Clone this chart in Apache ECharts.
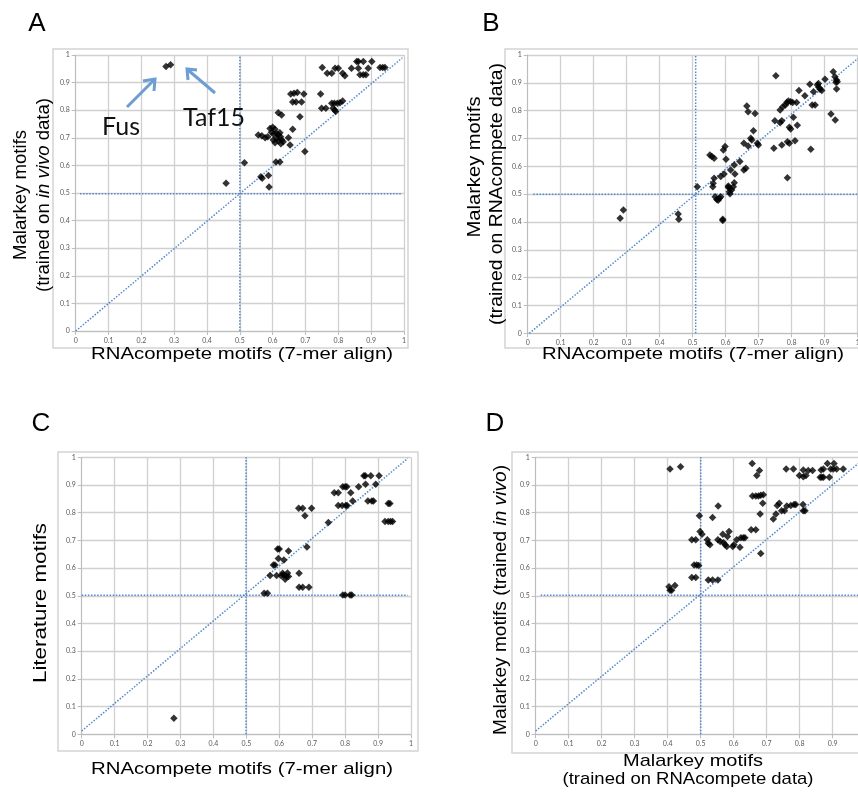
<!DOCTYPE html>
<html><head><meta charset="utf-8">
<script src="https://cdn.jsdelivr.net/npm/echarts@6/dist/echarts.min.js"></script>
<style>html,body{margin:0;padding:0;background:#fff}#c{width:858px;height:796px}</style>
</head><body><div id="c"></div>
<script>
// ---------- data ----------
const tickLabels = ['0','0.1','0.2','0.3','0.4','0.5','0.6','0.7','0.8','0.9','1'];

const pointsA = [
 [0.275,0.958],[0.289,0.965],
 [0.458,0.535],[0.514,0.61],
 [0.556,0.71],[0.567,0.707],[0.577,0.70],[0.585,0.704],
 [0.564,0.559],[0.568,0.553],[0.587,0.563],[0.589,0.522],
 [0.592,0.734],[0.600,0.738],[0.607,0.731],[0.596,0.72],[0.603,0.714],
 [0.612,0.716],[0.617,0.71],[0.622,0.718],[0.624,0.704],
 [0.602,0.692],[0.607,0.682],[0.612,0.698],[0.617,0.688],[0.627,0.692],[0.632,0.686],[0.625,0.678],
 [0.648,0.70],[0.653,0.674],[0.661,0.731],
 [0.617,0.791],[0.627,0.783],[0.683,0.776],
 [0.61,0.612],[0.622,0.612],[0.698,0.65],
 [0.655,0.859],[0.665,0.861],[0.675,0.864],[0.695,0.859],
 [0.661,0.83],[0.671,0.83],[0.688,0.83],
 [0.746,0.859],[0.749,0.807],[0.762,0.807],
 [0.78,0.825],[0.788,0.825],[0.797,0.825],[0.805,0.827],[0.813,0.833],
 [0.784,0.807],[0.789,0.801],[0.792,0.795],
 [0.751,0.955],[0.766,0.934],[0.78,0.934],[0.79,0.952],[0.80,0.952],[0.813,0.934],[0.82,0.925],[0.84,0.952],
 [0.856,0.976],[0.861,0.976],[0.876,0.976],[0.902,0.976],[0.861,0.952],[0.891,0.952],
 [0.866,0.928],[0.876,0.928],[0.884,0.928],
 [0.927,0.955],[0.935,0.955],[0.942,0.955]
];

const pointsB = [
 [0.28,0.413],[0.29,0.443],[0.456,0.429],[0.458,0.41],[0.514,0.527],
 [0.552,0.641],[0.558,0.635],[0.565,0.629],
 [0.565,0.557],[0.562,0.539],[0.561,0.527],
 [0.568,0.491],[0.573,0.481],[0.581,0.485],[0.585,0.491],[0.577,0.478],
 [0.591,0.41],[0.591,0.405],
 [0.585,0.563],[0.595,0.572],[0.608,0.525],
 [0.593,0.659],[0.598,0.671],[0.601,0.625],
 [0.608,0.529],[0.613,0.521],[0.618,0.515],[0.613,0.501],[0.623,0.527],[0.611,0.509],
 [0.615,0.587],[0.628,0.572],[0.626,0.605],[0.626,0.541],[0.643,0.617],
 [0.655,0.587],[0.661,0.593],
 [0.664,0.817],[0.668,0.796],[0.689,0.79],
 [0.655,0.683],[0.668,0.673],[0.676,0.701],[0.679,0.695],[0.684,0.728],[0.696,0.683],[0.699,0.677],
 [0.752,0.925],[0.746,0.665],[0.749,0.764],[0.765,0.757],[0.77,0.764],
 [0.765,0.802],[0.773,0.814],[0.781,0.82],[0.785,0.829],[0.79,0.835],[0.797,0.832],
 [0.77,0.677],[0.787,0.688],[0.793,0.683],[0.793,0.74],[0.797,0.734],[0.787,0.559],
 [0.803,0.829],[0.815,0.829],[0.805,0.776],[0.817,0.748],[0.81,0.692],
 [0.822,0.872],[0.84,0.854],[0.855,0.895],[0.858,0.661],[0.862,0.82],[0.871,0.82],[0.866,0.868],
 [0.878,0.892],[0.881,0.898],[0.886,0.877],[0.891,0.872],[0.882,0.884],
 [0.901,0.913],[0.919,0.788],[0.932,0.766],[0.926,0.94],
 [0.931,0.922],[0.936,0.91],[0.938,0.904],[0.934,0.902],[0.936,0.878]
];

const pointsC = [
 [0.28,0.058],[0.554,0.509],[0.564,0.509],[0.572,0.573],[0.592,0.573],
 [0.582,0.611],[0.587,0.611],[0.597,0.635],[0.595,0.669],[0.600,0.669],
 [0.610,0.581],[0.613,0.575],[0.618,0.56],[0.622,0.57],[0.625,0.582],[0.628,0.57],[0.606,0.572],
 [0.614,0.629],[0.628,0.662],
 [0.660,0.581],[0.660,0.531],[0.671,0.531],[0.690,0.531],
 [0.659,0.816],[0.671,0.816],[0.698,0.816],[0.678,0.789],[0.684,0.676],[0.749,0.765],
 [0.767,0.872],[0.779,0.872],[0.779,0.826],[0.791,0.826],[0.802,0.826],[0.806,0.826],
 [0.793,0.894],[0.800,0.894],[0.805,0.894],[0.817,0.872],[0.823,0.842],
 [0.793,0.503],[0.800,0.503],[0.815,0.503],[0.820,0.503],
 [0.841,0.894],[0.857,0.933],[0.861,0.933],[0.878,0.933],[0.903,0.933],
 [0.862,0.903],[0.893,0.903],[0.869,0.842],[0.881,0.842],[0.886,0.842],
 [0.931,0.833],[0.936,0.833],[0.921,0.768],[0.931,0.768],[0.938,0.768],[0.944,0.768]
];

const pointsD = [
 [0.407,0.958],[0.439,0.966],
 [0.404,0.533],[0.407,0.52],[0.412,0.52],[0.422,0.537],
 [0.473,0.702],[0.485,0.702],[0.473,0.566],[0.485,0.566],
 [0.496,0.789],[0.498,0.732],[0.504,0.722],
 [0.480,0.611],[0.488,0.611],[0.494,0.609],
 [0.520,0.702],[0.523,0.69],[0.528,0.684],
 [0.523,0.557],[0.536,0.557],[0.552,0.557],
 [0.536,0.783],[0.553,0.824],
 [0.552,0.702],[0.559,0.696],[0.569,0.692],[0.574,0.684],[0.579,0.678],
 [0.567,0.722],[0.581,0.714],[0.586,0.732],
 [0.597,0.678],[0.601,0.684],[0.609,0.702],[0.622,0.71],[0.629,0.71],[0.634,0.71],[0.619,0.675],
 [0.653,0.738],[0.667,0.738],[0.656,0.978],
 [0.657,0.86],[0.667,0.86],[0.675,0.86],[0.682,0.863],[0.690,0.865],
 [0.670,0.934],[0.678,0.952],[0.680,0.795],[0.682,0.653],[0.688,0.834],
 [0.720,0.777],[0.728,0.795],[0.732,0.826],[0.738,0.834],[0.745,0.807],[0.754,0.807],
 [0.759,0.958],[0.781,0.958],
 [0.761,0.824],[0.773,0.826],[0.783,0.83],[0.788,0.83],
 [0.799,0.934],[0.811,0.930],[0.819,0.934],
 [0.811,0.954],[0.826,0.952],[0.839,0.952],
 [0.81,0.83],[0.811,0.807],[0.816,0.807],
 [0.862,0.928],[0.867,0.928],[0.872,0.928],[0.865,0.954],[0.872,0.958],
 [0.884,0.978],[0.904,0.978],[0.890,0.928],
 [0.894,0.958],[0.902,0.958],[0.912,0.958],[0.932,0.958]
];

// reference (dotted) lines per panel
const vLineA = [[0.5,0],[0.5,1]],     hLineA = [[0.013,0.497],[0.995,0.497]], diagA = [[0,0],[0.995,0.99]];
const vLineB = [[0.509,0],[0.509,1]], hLineB = [[0.017,0.5],[1,0.5]],        diagB = [[0.005,0],[1,0.987]];
const vLineC = [[0.499,0],[0.499,1]], hLineC = [[0,0.502],[0.99,0.502]],     diagC = [[0,0.012],[0.99,0.996]];
const vLineD = [[0.5,0],[0.5,1]],     hLineD = [[0.015,0.502],[1,0.502]],    diagD = [[0,0.012],[1,1]];

// ---------- layout / style ----------
const grids = [
 {left:75.7, top:55, width:328.3, height:276},
 {left:527.7, top:55, width:330, height:278.3},
 {left:81.7, top:457.3, width:329.3, height:277},
 {left:535.7, top:457.3, width:330, height:277}
].map(g=>Object.assign(g,{containLabel:false, outerBoundsMode:'none'}));
const FONT = '"Liberation Sans", Arial, sans-serif';
const gridColor = '#d0d0d0';
const refColor = '#5189cc';

function axis(i){
  return {
    type:'value', gridIndex:i, min:0, max:1, interval:0.1,
    axisLine:{show:true, onZero:false, lineStyle:{color:'#bdbdbd', width:1}},
    axisTick:{show:true, length:4, lineStyle:{color:'#bdbdbd'}},
    axisLabel:{fontSize:7, color:'#595959', margin:6, fontFamily:'Lato, sans-serif',
      showMinLabel:true, showMaxLabel:true, hideOverlap:false, formatter:v=>tickLabels[Math.round(v*10)]},
    splitLine:{show:true, showMinLine:true, showMaxLine:true, lineStyle:{color:gridColor, width:1.3}}
  };
}
const panelPts = [pointsA, pointsB, pointsC, pointsD];
const panelRefs = [[vLineA,hLineA,diagA],[vLineB,hLineB,diagB],[vLineC,hLineC,diagC],[vLineD,hLineD,diagD]];

const series = [];
panelRefs.forEach((refs,i)=>{
  refs.forEach(r=>series.push({
    type:'line', xAxisIndex:i, yAxisIndex:i, data:r, showSymbol:false, silent:true,
    lineStyle:{color:refColor, width:1.5, type:[1.5,1.6]}, z:2, animation:false
  }));
});
panelPts.forEach((p,i)=>series.push({
  type:'scatter', xAxisIndex:i, yAxisIndex:i, data:p, symbol:'diamond', symbolSize:7.5,
  itemStyle:{color:'#000'}, z:3, animation:false
}));

// ---------- texts ----------
const mctx = document.createElement('canvas').getContext('2d');
function txt(text, plain, cx, cy, size, target, rot){
  mctx.font = size + 'px "Liberation Sans"';
  const w = mctx.measureText(plain).width;
  const s = target ? target / w : 1;
  return {
    type:'text', x:cx, y:cy, rotation:rot||0, scaleX:s, z:100, silent:true,
    style:{text:text, fontSize:size, fontFamily:FONT, fill:'#000', align:'center', verticalAlign:'middle',
      rich:{i:{fontStyle:'italic', fontSize:size, fontFamily:FONT, fill:'#000'}}}
  };
}
const R = Math.PI/2;
const texts = [
  txt('A','A',37,24,26,0),
  txt('B','B',491,24,26,0),
  txt('C','C',41,424,26,0),
  txt('D','D',495,424,26,0),
  // panel A
  txt('Malarkey motifs','Malarkey motifs',21,195,18,130,R),
  txt('(trained on {i|in vivo} data)','(trained on in vivo data)',44,195,18,194,R),
  txt('RNAcompete motifs (7-mer align)','RNAcompete motifs (7-mer align)',242,354,17,302,0),
  // panel B
  txt('Malarkey motifs','Malarkey motifs',475,167,18,141,R),
  txt('(trained on RNAcompete data)','(trained on RNAcompete data)',497,194,18,262,R),
  txt('RNAcompete motifs (7-mer align)','RNAcompete motifs (7-mer align)',693,354,17,302,0),
  // panel C
  txt('Literature motifs','Literature motifs',41,603,18,160,R),
  txt('RNAcompete motifs (7-mer align)','RNAcompete motifs (7-mer align)',242,769,17,302,0),
  // panel D
  txt('Malarkey motifs (trained {i|in vivo})','Malarkey motifs (trained in vivo)',501,600,18,270,R),
  txt('Malarkey motifs','Malarkey motifs',693,761,17,140,0),
  txt('(trained on RNAcompete data)','(trained on RNAcompete data)',688,779,17,251,0)
];
// annotations
const arrowColor = '#6c9ed3';
const annot = [
  {type:'text', x:121, y:127, z:100, style:{text:'Fus', fontSize:25, fontFamily:'Lato, "Open Sans", sans-serif', fill:'#111', align:'center', verticalAlign:'middle'}},
  {type:'text', x:214, y:118, z:100, style:{text:'Taf15', fontSize:25, fontFamily:'Lato, "Open Sans", sans-serif', fill:'#111', align:'center', verticalAlign:'middle'}},
  {type:'polyline', z:100, shape:{points:[[127,107],[154,80]]}, style:{stroke:arrowColor, lineWidth:3}},
  {type:'polyline', z:100, shape:{points:[[143,81],[155,79],[154,91]]}, style:{stroke:arrowColor, lineWidth:3, fill:null}},
  {type:'polyline', z:100, shape:{points:[[215,93],[188,70]]}, style:{stroke:arrowColor, lineWidth:3}},
  {type:'polyline', z:100, shape:{points:[[197,70],[187,69],[188,80]]}, style:{stroke:arrowColor, lineWidth:3, fill:null}}
];
// chart-area frames
const frames = [[53,49,355,299],[505,49,360,299],[58,452,360,299],[512,452,360,301]].map(f=>({
  type:'rect', z:1, silent:true, shape:{x:f[0],y:f[1],width:f[2],height:f[3]},
  style:{fill:null, stroke:'#d4d4d4', lineWidth:1.5}
}));

const chart = echarts.init(document.getElementById('c'), null, {renderer:'canvas'});
chart.setOption({
  animation:false,
  backgroundColor:'#fff',
  grid: grids,
  xAxis: [0,1,2,3].map(axis),
  yAxis: [0,1,2,3].map(axis),
  series: series,
  graphic: frames.concat(texts, annot)
});
</script></body></html>
